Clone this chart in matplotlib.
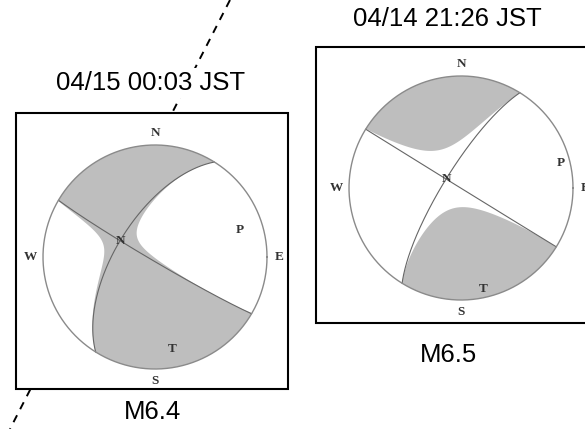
import numpy as np
import matplotlib
matplotlib.use('Agg')
import matplotlib.pyplot as plt

# focal mechanisms: axis trend / plunge (deg)
titles = ['04/15 00:03 JST', '04/14 21:26 JST']
mags = ['M6.4', 'M6.5']
p_axis = [(72.6, 21.6), (76.0, 9.0)]
t_axis = [(168.7, 17.6), (166.0, 9.0)]
# eigenvalue on the null axis (T = 1, P = -1), non double couple part
b_eig = [0.05, -0.16]

# layout in pixels (x, y from top)
centers = [(155, 257), (461, 188)]
radius = 112
boxes = [(16, 113, 288, 389), (316, 47, 600, 323)]
title_pos = [(151, 83), (447, 19)]
mag_pos = [(152, 412), (449, 355)]
fault = [(230, 0), (10, 429)]

W, H = 585, 429
fig = plt.figure(figsize=(W / 100, H / 100), dpi=100)
bg = fig.add_axes([0, 0, 1, 1])
bg.set_xlim(0, W)
bg.set_ylim(H, 0)
bg.axis('off')

# fault trace, goes under the boxes
bg.plot([fault[0][0], fault[1][0]], [fault[0][1], fault[1][1]], color='black',
        lw=1.4, dashes=(4, 3.5), zorder=1)


def vec(trend, plunge):
    tr, pl = np.radians(trend), np.radians(plunge)
    return np.array([np.cos(pl) * np.cos(tr), np.cos(pl) * np.sin(tr), np.sin(pl)])


def project(v):
    # lower hemisphere, equal area; v is (N, E, Down)
    if v[2] < 0:
        v = -v
    th = np.arccos(np.clip(v[2], -1, 1))
    r = np.sqrt(2) * np.sin(th / 2)
    h = np.hypot(v[0], v[1])
    if h < 1e-12:
        return 0.0, 0.0
    return r * v[1] / h, r * v[0] / h


for i in range(2):
    x0, y0, x1, y1 = boxes[i]
    bg.add_patch(plt.Rectangle((x0, y0), x1 - x0, y1 - y0, facecolor='white',
                               edgecolor='black', lw=1.5, zorder=2))
    bg.text(title_pos[i][0], title_pos[i][1], titles[i], ha='center', va='center',
            fontsize=18.5, family='Liberation Sans', zorder=3,
            bbox=dict(facecolor='white', edgecolor='none', pad=2))
    bg.text(mag_pos[i][0], mag_pos[i][1], mags[i], ha='center', va='center',
            fontsize=18.5, family='Liberation Sans', zorder=3)

    cx, cy = centers[i]
    lim = 1.25
    size = 2 * lim * radius
    ax = fig.add_axes([(cx - size / 2) / W, (H - cy - size / 2) / H, size / W, size / H])
    ax.set_xlim(-lim, lim)
    ax.set_ylim(-lim, lim)
    ax.axis('off')
    ax.patch.set_alpha(0)

    p = vec(*p_axis[i])
    t = vec(*t_axis[i])
    t = t - np.dot(t, p) * p
    t = t / np.linalg.norm(t)
    b = np.cross(p, t)

    # radiation amplitude on a grid
    g = np.linspace(-1, 1, 1201)
    X, Y = np.meshgrid(g, g)
    R = np.hypot(X, Y)
    th = 2 * np.arcsin(np.clip(R / np.sqrt(2), 0, 1))
    with np.errstate(invalid='ignore', divide='ignore'):
        nN = np.where(R > 0, np.sin(th) * Y / R, 0)
        nE = np.where(R > 0, np.sin(th) * X / R, 0)
    nD = np.cos(th)
    dot = lambda a: a[0] * nN + a[1] * nE + a[2] * nD
    amp = dot(t) ** 2 - dot(p) ** 2 + b_eig[i] * dot(b) ** 2
    amp = np.ma.masked_where(R > 1, amp)
    ax.contourf(X, Y, amp, levels=[0, 10], colors=['#bebebe'], antialiased=True)

    # nodal planes of the double couple
    for nv in [(t + p) / np.sqrt(2), (t - p) / np.sqrt(2)]:
        u1 = np.cross(nv, [0, 0, 1.0])
        u1 = u1 / np.linalg.norm(u1)
        u2 = np.cross(nv, u1)
        if u2[2] < 0:
            u2 = -u2
        pts = [project(np.cos(a) * u1 + np.sin(a) * u2) for a in np.linspace(0, np.pi, 200)]
        pts = np.array(pts)
        ax.plot(pts[:, 0], pts[:, 1], color='#666666', lw=0.8)

    ang = np.linspace(0, 2 * np.pi, 400)
    ax.plot(np.cos(ang), np.sin(ang), color='#8a8a8a', lw=1.0)

    lab = dict(ha='center', va='center', fontsize=9.5, family='Liberation Serif',
               weight='bold', color='#333333')
    d = 1.11
    ax.text(0, d, 'N', **lab)
    ax.text(0, -d, 'S', **lab)
    ax.text(d, 0, 'E', **lab)
    ax.text(-d, 0, 'W', **lab)
    for name, v in [('P', p), ('T', t), ('N', b)]:
        px, py = project(v)
        ax.text(px, py, name, **lab)

fig.savefig('out.png', dpi=100)
